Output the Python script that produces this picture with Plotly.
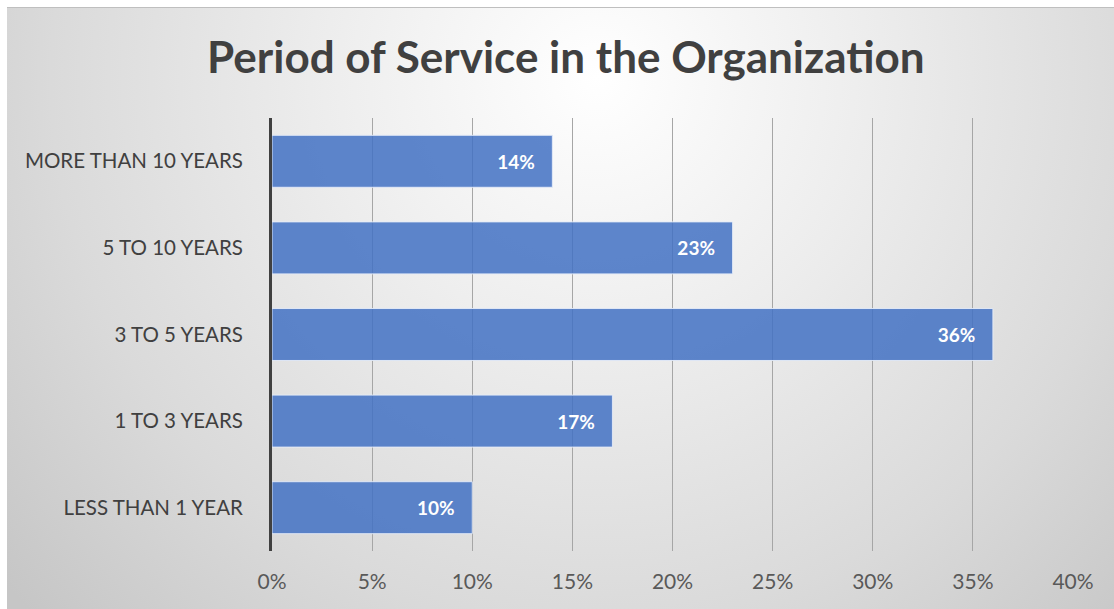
import base64
import plotly.graph_objects as go

categories = ["LESS THAN 1 YEAR", "1 TO 3 YEARS", "3 TO 5 YEARS", "5 TO 10 YEARS", "MORE THAN 10 YEARS"]
values = [10, 17, 36, 23, 14]
tick_vals = [0, 5, 10, 15, 20, 25, 30, 35, 40]
tick_text = ["0%", "5%", "10%", "15%", "20%", "25%", "30%", "35%", "40%"]
title_text = "Period of Service in the Organization"

W, H = 1114, 609
FONT = "Lato"

svg = f'''<svg xmlns="http://www.w3.org/2000/svg" width="1107" height="603" viewBox="0 0 1107 603">
<defs><radialGradient id="g" gradientUnits="userSpaceOnUse" cx="590" cy="70" r="780">
<stop offset="0" stop-color="#ffffff"/><stop offset="0.35" stop-color="#ededed"/>
<stop offset="0.7" stop-color="#dadada"/><stop offset="1" stop-color="#c6c6c6"/></radialGradient></defs>
<rect x="0" y="0" width="1107" height="603" fill="url(#g)"/>
<line x1="0" y1="0.5" x2="1107" y2="0.5" stroke="#bfbfbf" stroke-width="1"/>
</svg>'''
bg_src = "data:image/svg+xml;base64," + base64.b64encode(svg.encode()).decode()

PW = W - 272 - 41
PH = H - 118 - 58

fig = go.Figure()
fig.add_trace(go.Bar(
    y=categories,
    x=values,
    orientation="h",
    width=0.6,
    marker=dict(color="rgba(68,114,196,0.86)", line=dict(color="rgba(230,236,248,0.9)", width=1)),
    text=[f"<b>{v}%</b>\u00a0\u00a0\u00a0" for v in values],
    texttemplate="%{text}",
    textposition="inside",
    insidetextanchor="end",
    textfont=dict(family=FONT, size=19, color="white"),
    hoverinfo="skip",
))

fig.update_layout(
    width=W, height=H,
    margin=dict(l=272, r=41, t=118, b=58),
    paper_bgcolor="white",
    plot_bgcolor="rgba(0,0,0,0)",
    showlegend=False,
    title=dict(text="<b>" + title_text + "</b>", x=0.508, xanchor="center", y=0.905, yanchor="middle",
               font=dict(family=FONT, size=44, color="#404040")),
    images=[dict(source=bg_src, xref="paper", yref="paper", x=(7 - 272) / PW, y=1 + (118 - 7) / PH,
                 sizex=(W - 7) / PW, sizey=(H - 7) / PH, xanchor="left", yanchor="top",
                 sizing="stretch", layer="below")],
    bargap=0.4,
)
fig.update_xaxes(range=[0, 40], tickvals=tick_vals, ticktext=tick_text, showgrid=True,
                 gridcolor="#a6a6a6", gridwidth=1, zeroline=False, showline=False,
                 tickfont=dict(family=FONT, size=21, color="#595959"), ticklabelstandoff=16, fixedrange=True)
fig.update_yaxes(showline=True, linecolor="#404040", linewidth=3, showgrid=False,
                 tickfont=dict(family=FONT, size=20.5, color="#404040"), ticklabelstandoff=22, fixedrange=True)

fig.write_html("out.html")
